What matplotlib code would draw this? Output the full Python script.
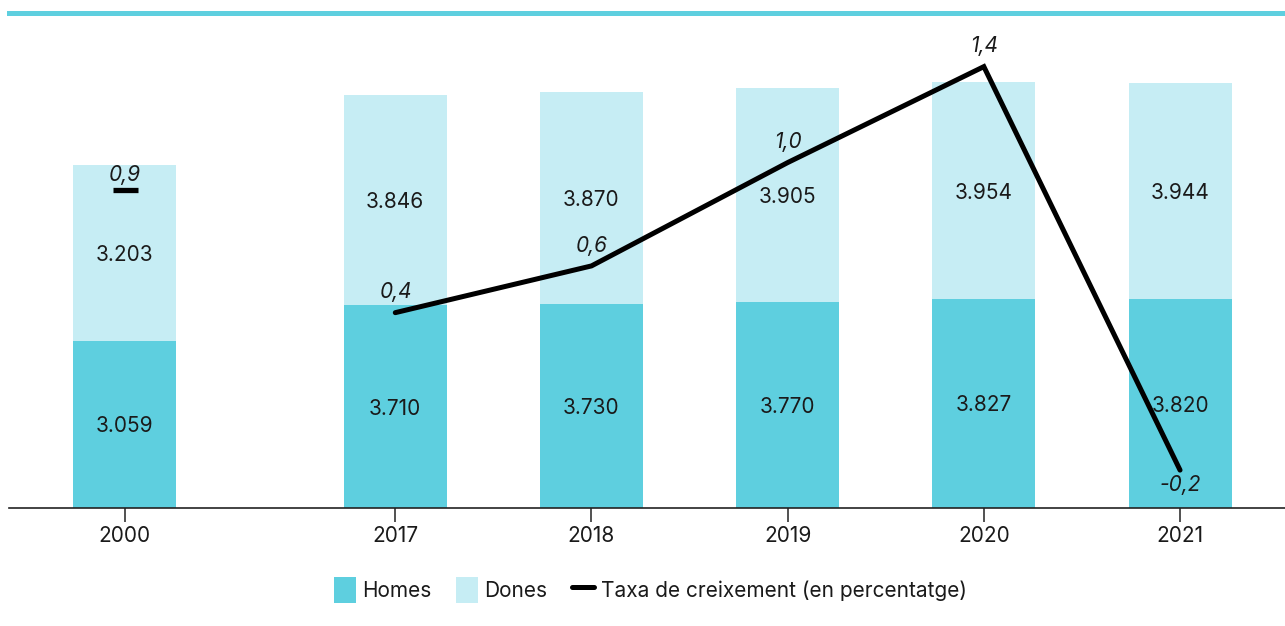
import matplotlib.pyplot as plt
import numpy as np

plt.rcParams['font.family'] = ['Inter', 'DejaVu Sans']

# --------------------------------------------------
# Data
# --------------------------------------------------
years = ["2000", "2017", "2018", "2019", "2020", "2021"]
homes = [3059, 3710, 3730, 3770, 3827, 3820]
dones = [3203, 3846, 3870, 3905, 3954, 3944]
growth = [0.9, 0.4, 0.59, 1.01, 1.4, -0.24]

c_homes = "#5ecfdf"
c_dones = "#c6edf4"
c_text = "#1a1a1a"

x = np.array([0, 1.38, 2.38, 3.38, 4.38, 5.38])
bar_w = 0.525

fig = plt.figure(figsize=(12.85, 6.26), dpi=100)
ax = fig.add_axes([9 / 1285, 118 / 626, 1276 / 1285, 495 / 626])

# --------------------------------------------------
# Stacked bars
# --------------------------------------------------
ax.bar(x, homes, width=bar_w, color=c_homes, label="Homes", zorder=1)
ax.bar(x, dones, width=bar_w, bottom=homes, color=c_dones, label="Dones", zorder=1)

for xi, h, d in zip(x, homes, dones):
    ax.text(xi, h / 2, f"{h:,}".replace(",", "."), ha="center", va="center_baseline",
            fontsize=15, color=c_text, zorder=3)
    ax.text(xi, h + d / 2, f"{d:,}".replace(",", "."), ha="center", va="center_baseline",
            fontsize=15, color=c_text, zorder=3)

ax.set_xlim(-0.589, 5.915)
ax.set_ylim(0, 9049)
ax.set_xticks(x)
ax.set_xticklabels(years, fontsize=15, color=c_text)
ax.set_yticks([])
ax.tick_params(axis="x", length=10, width=1.2, color="#333333", pad=3)

for side in ["left", "right"]:
    ax.spines[side].set_visible(False)
ax.spines["bottom"].set_color("#222222")
ax.spines["bottom"].set_linewidth(1.2)
ax.spines["top"].set_color(c_homes)
ax.spines["top"].set_linewidth(3.6)

# --------------------------------------------------
# Growth line (secondary axis)
# --------------------------------------------------
ax2 = ax.twinx()
ax2.set_ylim(-0.394, 1.618)
ax2.set_yticks([])
for side in ["left", "right", "top", "bottom"]:
    ax2.spines[side].set_visible(False)

line, = ax2.plot(x[1:], growth[1:], color="black", linewidth=3.6,
                 solid_joinstyle="miter", solid_capstyle="round",
                 label="Taxa de creixement (en percentatge)", zorder=4)
ax2.plot([x[0]], [growth[0]], marker="_", markersize=18, markeredgewidth=3.8,
         color="black", zorder=4)

for i, (xi, g) in enumerate(zip(x, growth)):
    txt = f"{g:.1f}".replace(".", ",")
    dy = -9 if g < 0 else 16
    if i == 0:
        dy = 12
    ax2.annotate(txt, (xi, g), xytext=(0, dy), textcoords="offset points",
                 ha="center", va="center_baseline", fontsize=15, style="italic",
                 color=c_text, zorder=5)

# --------------------------------------------------
# Legend
# --------------------------------------------------
h1, l1 = ax.get_legend_handles_labels()
fig.legend(h1 + [line], l1 + [line.get_label()], loc="center",
           bbox_to_anchor=(0.506, 1 - 590 / 626), ncol=3, frameon=False,
           fontsize=15, handlelength=1.05, handleheight=1.6,
           handletextpad=0.3, columnspacing=1.2, labelcolor=c_text)

fig.savefig("out.png", dpi=100)
